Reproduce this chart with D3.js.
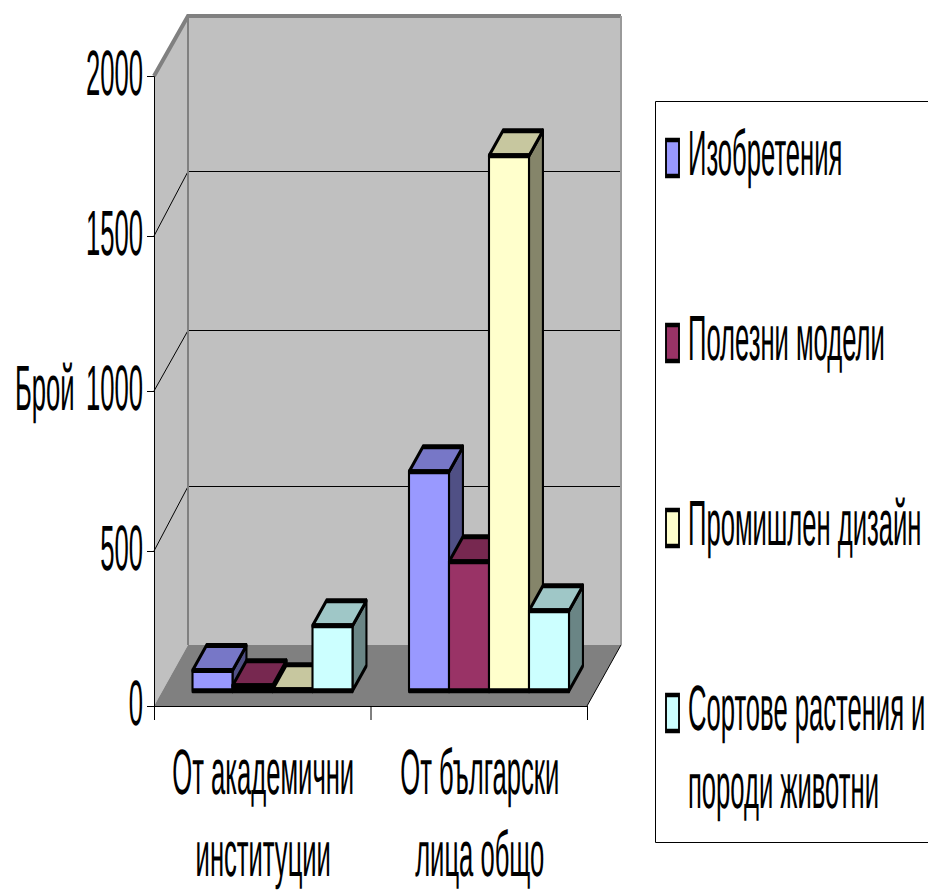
<!DOCTYPE html>
<html>
<head>
<meta charset="utf-8">
<script src="https://cdn.jsdelivr.net/npm/d3@7"></script>
<style>
  html, body { margin: 0; padding: 0; background: #fff; overflow: hidden; }
  svg { display: block; }
  text { font-family: "Liberation Sans", Arial, sans-serif; fill: #000; text-rendering: geometricPrecision; }
</style>
</head>
<body>
<script>
const WIDTH = 928;
const HEIGHT = 890;

const categories = ['От академични институции', 'От български лица общо'];
const categoryLines = [['От академични', 'институции'], ['От български', 'лица общо']];
const seriesNames = ['Изобретения', 'Полезни модели', 'Промишлен дизайн', 'Сортове растения и породи животни'];
const seriesColors = ['#9999ff', '#993366', '#ffffcc', '#ccffff'];
const invention = [65, 700];
const utility = [16, 416];
const design = [3, 1703];
const varieties = [210, 258];
const seriesValues = [invention, utility, design, varieties];
const yTicks = [0, 500, 1000, 1500, 2000];

const FONT = 64;
const TEXT_SQUASH = 0.4;
const MARK_SQUASH = 0.42; // the original picture was squeezed sideways, so vertical strokes are thinner
const DEPTH = [34, 61];
const BAR_Z = [0.25, 0.66];

const svg = d3.select('body').append('svg')
    .attr('width', WIDTH)
    .attr('height', HEIGHT)
    .attr('viewBox', [0, 0, WIDTH, HEIGHT]);

// the source image was upscaled from a low resolution, so tick spacing is not quite even
const y = d3.scaleLinear().domain(yTicks).range([706, 551, 391, 236, 76]);
const yBack = d3.scaleLinear().domain(yTicks).range([645, 486, 330, 171, 16]);
const x0 = d3.scaleBand().domain(categories).range([154, 587]);
const x1 = d3.scaleBand().domain(seriesNames).range([30, 190]);

const pt = (x, yy, z = 0) => [x + z * DEPTH[0], yy - z * DEPTH[1]];
const poly = pts => 'M' + pts.map(p => p.join(',')).join('L') + 'Z';
const squashed = pts => poly(pts.map(p => [p[0] / MARK_SQUASH, p[1]]));

function squashText(sel, x, yy, anchor, str) {
    sel.append('text')
        .attr('transform', `translate(${x},${yy}) scale(${TEXT_SQUASH},1)`)
        .attr('text-anchor', anchor)
        .attr('font-size', FONT)
        .text(str);
}

drawWalls();
drawAxes();
drawBars();
drawLegend();

function drawWalls() {
    const [xl, xr] = x0.range();
    const xlb = xl + DEPTH[0], xrb = xr + DEPTH[0];
    const y0 = y(0), yt = y(2000);
    const walls = svg.append('g');
    walls.append('path').attr('fill', '#c0c0c0')
        .attr('d', poly([[xl, y0], [xlb, yBack(0)], [xlb, yBack(2000)], [xl, yt]]));
    walls.append('path').attr('fill', '#c0c0c0')
        .attr('d', poly([[xlb, yBack(0)], [xrb, yBack(0)], [xrb, yBack(2000)], [xlb, yBack(2000)]]));

    // gridlines run along the left wall and across the back wall
    walls.selectAll('path.grid')
        .data(yTicks.slice(1, -1))
        .join('path')
        .attr('class', 'grid')
        .attr('fill', 'none')
        .attr('stroke', '#000')
        .attr('stroke-width', 1)
        .attr('d', d => d3.line()([[xl, y(d)], [xlb, yBack(d) + 0.5], [xrb, yBack(d) + 0.5]]));

    // grey rim of the walls
    walls.append('path')
        .attr('fill', 'none')
        .attr('stroke', '#808080')
        .attr('stroke-width', 4)
        .attr('d', d3.line()([[xl, yt], [xlb, yBack(2000)], [xrb, yBack(2000)]]));
    walls.append('path')
        .attr('fill', 'none')
        .attr('stroke', '#808080')
        .attr('stroke-width', 2)
        .attr('d', d3.line()([[xlb, yBack(2000)], [xlb, yBack(0)]]));
    walls.append('path')
        .attr('fill', 'none')
        .attr('stroke', '#9a9a9a')
        .attr('stroke-width', 2)
        .attr('d', d3.line()([[xrb, yBack(2000)], [xrb, yBack(0)]]));

    walls.append('path').attr('fill', '#808080')
        .attr('d', poly([[xl, y0], [xr, y0], [xrb, yBack(0)], [xlb, yBack(0)]]));
    walls.append('path')
        .attr('fill', 'none')
        .attr('stroke', '#000')
        .attr('stroke-width', 1)
        .attr('d', d3.line()([[xr, y0], [xrb, yBack(0)]]));
}

function drawAxes() {
    const yAxis = d3.axisLeft(y).tickValues(yTicks).tickSize(7).tickFormat('');
    svg.append('g')
        .attr('transform', `translate(${x0.range()[0]},0)`)
        .call(yAxis)
        .call(g => g.selectAll('path,line').attr('stroke', '#000'));

    const edges = d3.scaleLinear().domain([0, categories.length]).range(x0.range());
    const xAxis = d3.axisBottom(edges).tickValues(d3.range(categories.length + 1)).tickSize(14).tickFormat('');
    svg.append('g')
        .attr('transform', `translate(0,${y(0)})`)
        .call(xAxis)
        .call(g => g.selectAll('path,line').attr('stroke', '#000'));

    yTicks.forEach(t => squashText(svg, 143, y(t) + 19, 'end', t));
    squashText(svg, 15, 410, 'start', 'Брой');

    categories.forEach((c, i) => {
        const cx = x0(c) + x0.bandwidth() / 2 + 1;
        categoryLines[i].forEach((line, j) => squashText(svg, cx, 794 + j * 82, 'middle', line));
    });
}

function drawBars() {
    const shade = (c, k) => {
        const r = d3.rgb(c);
        return d3.rgb(r.r * k, r.g * k, r.b * k).formatHex();
    };
    const group = svg.append('g')
        .attr('transform', `scale(${MARK_SQUASH},1)`)
        .attr('stroke', '#000')
        .attr('stroke-width', 5)
        .attr('stroke-linejoin', 'round');

    categories.forEach((c, ci) => {
        seriesNames.forEach((s, si) => {
            const left = x0(c) + x1(s);
            const right = left + x1.bandwidth();
            const top = y(seriesValues[si][ci]);
            const [z0, z1] = BAR_Z;
            const base = y(0);
            const bar = group.append('g');
            bar.append('path')
                .attr('fill', shade(seriesColors[si], 0.52))
                .attr('d', squashed([pt(right, base, z0), pt(right, base, z1), pt(right, top, z1), pt(right, top, z0)]));
            bar.append('path')
                .attr('fill', shade(seriesColors[si], 0.78))
                .attr('d', squashed([pt(left, top, z0), pt(right, top, z0), pt(right, top, z1), pt(left, top, z1)]));
            bar.append('path')
                .attr('fill', seriesColors[si])
                .attr('d', squashed([pt(left, base, z0), pt(right, base, z0), pt(right, top, z0), pt(left, top, z0)]));
        });
    });
}

function drawLegend() {
    const legend = svg.append('g');
    legend.append('path')
        .attr('fill', 'none')
        .attr('stroke', '#000')
        .attr('stroke-width', 1)
        .attr('d', 'M928,101.5H655.5V842.5H928');

    const keyY = d3.scalePoint().domain(seriesNames).range([158, 713]);
    const labelLines = [['Изобретения'], ['Полезни модели'], ['Промишлен дизайн'], ['Сортове растения и', 'породи животни']];

    legend.append('g')
        .attr('transform', `scale(${MARK_SQUASH},1)`)
        .selectAll('rect')
        .data(seriesNames)
        .join('rect')
        .attr('x', 666 / MARK_SQUASH)
        .attr('y', d => keyY(d) - 18)
        .attr('width', 13 / MARK_SQUASH)
        .attr('height', 36)
        .attr('fill', (d, i) => seriesColors[i])
        .attr('stroke', '#000')
        .attr('stroke-width', 4.5);

    seriesNames.forEach((s, i) => {
        labelLines[i].forEach((line, j) => {
            squashText(legend, 688, keyY(s) + 16.5 + j * 78, 'start', line);
        });
    });
}
</script>
</body>
</html>
